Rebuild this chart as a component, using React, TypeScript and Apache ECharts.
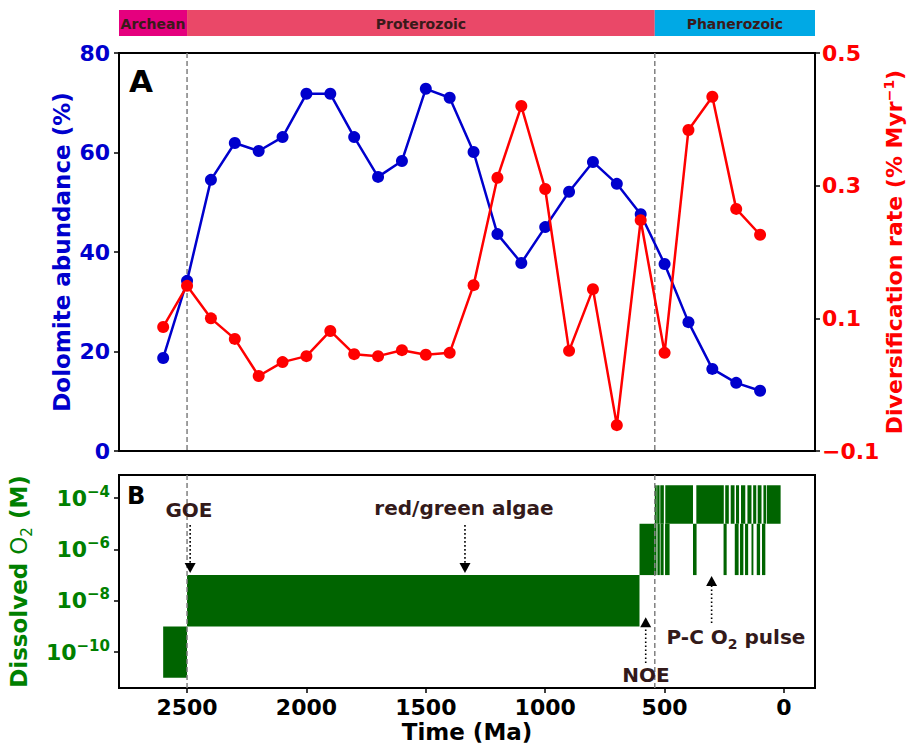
import React, { useEffect, useRef } from 'react';
import * as echarts from 'echarts';

// ---- Panel A data (Ma) ----
const ages = [2600, 2500, 2400, 2300, 2200, 2100, 2000, 1900, 1800, 1700, 1600, 1500, 1400, 1300, 1200, 1100, 1000, 900, 800, 700, 600, 500, 400, 300, 200, 100];
const dolomite = [18.7, 34.2, 54.5, 61.9, 60.3, 63.1, 71.8, 71.8, 63.1, 55.1, 58.3, 72.8, 71.0, 60.1, 43.6, 37.8, 45.0, 52.1, 58.1, 53.7, 47.6, 37.6, 25.9, 16.5, 13.7, 12.1];
const diversification = [0.087, 0.149, 0.100, 0.069, 0.013, 0.034, 0.043, 0.081, 0.046, 0.043, 0.052, 0.045, 0.048, 0.150, 0.312, 0.420, 0.295, 0.051, 0.144, -0.061, 0.248, 0.048, 0.384, 0.434, 0.265, 0.226];

// ---- Axis ticks ----
const dolomiteTicks = [0, 20, 40, 60, 80];
const diversificationTicks = [-0.1, 0.1, 0.3, 0.5];
const timeTicks = [2500, 2000, 1500, 1000, 500, 0];
const o2TickExponents = [-10, -8, -6, -4];

// ---- Eons ----
const eonNames = ['Archean', 'Proterozoic', 'Phanerozoic'];
const eonBounds = [4000, 2500, 541, 0];
const eonColors = ['#E5007E', '#EA4868', '#00A9E5'];

// boundaries drawn as dashed lines
const eventAges = [2500, 541];

// ---- Panel B: dissolved O2 (log10 M) ----
// [older Ma, younger Ma, low, high]
const o2Blocks = [
  [2600, 2500, -11, -9],
  [2500, 605, -9, -7],
  [605, 541, -7, -5],
];
const o2HighRange = [-5, -3.5];
const o2LowRange = [-7, -5];
const o2HighPulses = [
  [541, 533], [531, 521], [518, 503], [497, 381], [367, 252], [246, 231], [223, 207],
  [201, 188], [180, 162], [153, 136], [129, 116], [110, 94], [86, 75], [72, 14],
];
const o2LowPulses = [
  [541, 534], [530, 520], [517, 504], [498, 479], [381, 366], [253, 240], [206, 190],
  [184, 170], [163, 150], [136, 128], [114, 100], [92, 78],
];

// ---- Annotations (Ma, log10 M) ----
const annotLabels = ['GOE', 'red/green algae', 'NOE', 'P-C O₂ pulse'];
const annotTextAge = [2492, 1340, 578, 201];
const annotTextLogO2 = [-4.45, -4.39, -10.9, -9.41];
const arrowAge = [2487, 1336, 579, 303];
const arrowTailLogO2 = [-5.05, -5.05, -10.43, -8.87];
const arrowTipLogO2 = [-6.92, -6.92, -8.64, -7.04];

const X_MIN = -130;
const X_MAX = 2785;

const BLUE = '#0000CD';
const RED = '#FF0000';
const GREEN = '#008000';
const DARKGREEN = '#006400';
const ANNOT = '#331a1a';
const FONT = 'DejaVu Sans';

const bold = { fontFamily: FONT, fontWeight: 'bold' as const };
const noLine = { show: false, onZero: false };

function buildOption() {
  const o2Data: number[][] = [
    ...o2Blocks,
    ...o2HighPulses.map(([s, e]) => [s, e, o2HighRange[0], o2HighRange[1]]),
    ...o2LowPulses.map(([s, e]) => [s, e, o2LowRange[0], o2LowRange[1]]),
  ];

  const rectRender = (params: any, api: any) => {
    const a = api.coord([api.value(0), api.value(3)]);
    const b = api.coord([api.value(1), api.value(2)]);
    return {
      type: 'rect',
      shape: {
        x: Math.min(a[0], b[0]),
        y: Math.min(a[1], b[1]),
        width: Math.abs(b[0] - a[0]),
        height: Math.abs(b[1] - a[1]),
      },
      style: { fill: DARKGREEN },
    };
  };

  const dashRender = (params: any, api: any) => {
    const x = api.coord([api.value(0), api.value(1)])[0];
    const cs = params.coordSys;
    return {
      type: 'line',
      shape: { x1: x, y1: cs.y, x2: x, y2: cs.y + cs.height },
      style: { stroke: '#808080', lineWidth: 1.5, lineDash: [5, 3] },
    };
  };

  const eonRender = (params: any, api: any) => {
    const cs = params.coordSys;
    const i = params.dataIndex;
    let x0 = api.coord([api.value(0), 0])[0];
    let x1 = api.coord([api.value(1), 0])[0];
    if (i === 0) x0 = cs.x;
    if (i === eonNames.length - 1) x1 = cs.x + cs.width;
    const left = Math.max(cs.x, Math.min(x0, x1));
    const right = Math.min(cs.x + cs.width, Math.max(x0, x1));
    return {
      type: 'group',
      children: [
        {
          type: 'rect',
          shape: { x: left, y: cs.y, width: right - left, height: cs.height },
          style: { fill: eonColors[i] },
        },
        {
          type: 'text',
          x: (left + right) / 2,
          y: cs.y + cs.height / 2 + 1,
          style: {
            text: eonNames[i],
            fill: '#3a1a1a',
            font: `bold 14px "${FONT}"`,
            align: 'center',
            verticalAlign: 'middle',
            textAlign: 'center',
            textVerticalAlign: 'middle',
          },
        },
      ],
    };
  };

  const annotRender = (params: any, api: any) => {
    const i = params.dataIndex;
    const t = api.coord([api.value(0), api.value(1)]);
    const tip = api.coord([arrowAge[i], arrowTipLogO2[i]]);
    const tail = api.coord([arrowAge[i], arrowTailLogO2[i]]);
    const d = tip[1] > tail[1] ? 1 : -1;
    const headLen = 10;
    const headHalf = 5.5;
    const label = annotLabels[i];
    const isRich = label.indexOf('₂') >= 0;
    const text = isRich ? '{b|' + label.split('₂')[0] + '}{s|2}{b|' + label.split('₂')[1] + '}' : label;
    return {
      type: 'group',
      children: [
        {
          type: 'line',
          shape: { x1: tail[0], y1: tail[1], x2: tip[0], y2: tip[1] - d * headLen },
          style: { stroke: '#000', lineWidth: 1.6, lineDash: [1.6, 2.4] },
        },
        {
          type: 'polygon',
          shape: {
            points: [
              [tip[0], tip[1]],
              [tip[0] - headHalf, tip[1] - d * headLen],
              [tip[0] + headHalf, tip[1] - d * headLen],
            ],
          },
          style: { fill: '#000' },
        },
        {
          type: 'text',
          x: t[0],
          y: t[1],
          style: {
            text,
            fill: ANNOT,
            font: `bold 20px "${FONT}"`,
            align: 'center',
            verticalAlign: 'middle',
            textAlign: 'center',
            textVerticalAlign: 'middle',
            rich: isRich
              ? {
                  b: { fontSize: 20, fontWeight: 'bold', fontFamily: FONT, fill: ANNOT, lineHeight: 28 },
                  s: { fontSize: 14, fontWeight: 'bold', fontFamily: FONT, fill: ANNOT, lineHeight: 14, verticalAlign: 'bottom' },
                }
              : undefined,
          },
        },
      ],
    };
  };

  const gridBase = { left: 119, right: 97, outerBoundsMode: 'none', containLabel: false };

  return {
    animation: false,
    textStyle: { fontFamily: FONT },
    grid: [
      { ...gridBase, top: 53, height: 398, show: true, borderColor: '#000', borderWidth: 2, backgroundColor: 'transparent' },
      { ...gridBase, top: 475, height: 213, show: true, borderColor: '#000', borderWidth: 2, backgroundColor: 'transparent' },
      { ...gridBase, top: 10, height: 26, show: false },
    ],
    xAxis: [
      {
        gridIndex: 0, type: 'value', inverse: true, min: X_MIN, max: X_MAX,
        axisLine: noLine, axisTick: { show: false }, axisLabel: { show: false }, splitLine: { show: false },
      },
      {
        gridIndex: 1, type: 'value', inverse: true, min: X_MIN, max: X_MAX,
        name: 'Time (Ma)', nameLocation: 'middle', nameGap: 32, nameMoveOverlap: false,
        nameTextStyle: { ...bold, fontSize: 23, color: '#000' },
        axisLine: noLine,
        axisTick: { show: true, length: 5, lineStyle: { color: '#000', width: 1.5 }, customValues: timeTicks },
        axisLabel: { ...bold, fontSize: 22, color: '#000', margin: 8, customValues: timeTicks, formatter: (v: number) => String(v) },
        splitLine: { show: false },
      },
      { gridIndex: 2, type: 'value', inverse: true, min: X_MIN, max: X_MAX, show: false, axisLine: noLine },
    ],
    yAxis: [
      {
        gridIndex: 0, type: 'value', min: 0, max: 80, position: 'left',
        name: 'Dolomite abundance (%)', nameLocation: 'middle', nameGap: 46, nameMoveOverlap: false,
        nameTextStyle: { ...bold, fontSize: 23, color: BLUE },
        axisLine: noLine,
        axisTick: { show: true, length: 5, lineStyle: { color: '#000', width: 1.5 }, customValues: dolomiteTicks },
        axisLabel: { ...bold, fontSize: 22, color: BLUE, margin: 9, customValues: dolomiteTicks, formatter: (v: number) => String(v) },
        splitLine: { show: false },
      },
      {
        gridIndex: 0, type: 'value', min: -0.1, max: 0.5, position: 'right',
        name: '{n|Diversification rate (% Myr}{s|−1}{n|)}', nameLocation: 'middle', nameGap: 67, nameMoveOverlap: false,
        nameTextStyle: {
          ...bold, fontSize: 22, color: RED,
          rich: {
            n: { ...bold, fontSize: 22, color: RED, lineHeight: 24 },
            s: { ...bold, fontSize: 14, color: RED, lineHeight: 12, verticalAlign: 'top' },
          },
        },
        axisLine: noLine,
        axisTick: { show: true, length: 5, lineStyle: { color: '#000', width: 1.5 }, customValues: diversificationTicks },
        axisLabel: {
          ...bold, fontSize: 22, color: RED, margin: 7, customValues: diversificationTicks,
          formatter: (v: number) => (v < 0 ? '−' : '') + Math.abs(v).toFixed(1),
        },
        splitLine: { show: false },
      },
      {
        gridIndex: 1, type: 'value', min: -11.4, max: -3.1, position: 'left',
        name: '{n|Dissolved }{r|O}{u|2}{n| (M)}', nameLocation: 'middle', nameGap: 85, nameMoveOverlap: false,
        nameTextStyle: {
          ...bold, fontSize: 23, color: GREEN,
          rich: {
            n: { ...bold, fontSize: 23, color: GREEN, lineHeight: 30 },
            r: { fontFamily: FONT, fontWeight: 'normal', fontSize: 23, color: GREEN, lineHeight: 30 },
            u: { fontFamily: FONT, fontWeight: 'normal', fontSize: 15, color: GREEN, lineHeight: 15, verticalAlign: 'bottom' },
          },
        },
        axisLine: noLine,
        axisTick: { show: true, length: 5, lineStyle: { color: '#000', width: 1.5 }, customValues: o2TickExponents },
        axisLabel: {
          customValues: o2TickExponents, margin: 9,
          formatter: (v: number) => `{b|10}{s|−${Math.abs(v)}}`,
          rich: {
            b: { ...bold, fontSize: 22, color: GREEN, lineHeight: 28 },
            s: { ...bold, fontSize: 15, color: GREEN, lineHeight: 15, verticalAlign: 'top' },
          },
        },
        splitLine: { show: false },
      },
      { gridIndex: 2, type: 'value', min: 0, max: 1, show: false, axisLine: noLine },
    ],
    graphic: [
      { type: 'text', left: 129, top: 65, style: { text: 'A', font: `bold 31px "${FONT}"`, fill: '#000' } },
      { type: 'text', left: 127, top: 484, style: { text: 'B', font: `bold 24px "${FONT}"`, fill: '#000' } },
    ],
    series: [
      {
        type: 'custom', name: 'boundaries A', xAxisIndex: 0, yAxisIndex: 0, z: 1, silent: true,
        data: eventAges.map((a) => [a, 0]), encode: { x: 0, y: 1 }, renderItem: dashRender,
      },
      {
        type: 'line', name: 'Dolomite abundance', xAxisIndex: 0, yAxisIndex: 0, z: 3,
        data: ages.map((a, i) => [a, dolomite[i]]),
        symbol: 'circle', symbolSize: 12,
        lineStyle: { color: BLUE, width: 2.5 }, itemStyle: { color: BLUE },
      },
      {
        type: 'line', name: 'Diversification rate', xAxisIndex: 0, yAxisIndex: 1, z: 4,
        data: ages.map((a, i) => [a, diversification[i]]),
        symbol: 'circle', symbolSize: 12,
        lineStyle: { color: RED, width: 2.5 }, itemStyle: { color: RED },
      },
      {
        type: 'custom', name: 'Dissolved O2', xAxisIndex: 1, yAxisIndex: 2, z: 2,
        data: o2Data, encode: { x: [0, 1], y: [2, 3] }, renderItem: rectRender,
      },
      {
        type: 'custom', name: 'boundaries B', xAxisIndex: 1, yAxisIndex: 2, z: 3, silent: true,
        data: eventAges.map((a) => [a, -5]), encode: { x: 0, y: 1 }, renderItem: dashRender,
      },
      {
        type: 'custom', name: 'annotations', xAxisIndex: 1, yAxisIndex: 2, z: 5, silent: true,
        data: annotLabels.map((_, i) => [annotTextAge[i], annotTextLogO2[i]]),
        encode: { x: 0, y: 1 }, renderItem: annotRender,
      },
      {
        type: 'custom', name: 'eons', xAxisIndex: 2, yAxisIndex: 3, z: 2, silent: true,
        data: eonNames.map((_, i) => [eonBounds[i], eonBounds[i + 1]]),
        encode: { x: [0, 1] }, renderItem: eonRender,
      },
    ],
  };
}

export default function App() {
  const ref = useRef<HTMLDivElement>(null);
  useEffect(() => {
    if (!ref.current) return;
    const chart = echarts.init(ref.current, undefined, { renderer: 'svg' });
    chart.setOption(buildOption() as any);
    return () => chart.dispose();
  }, []);
  return (
    <div
      ref={ref}
      style={{ position: 'fixed', left: 0, top: 0, width: 912, height: 745, background: '#fff' }}
    />
  );
}
